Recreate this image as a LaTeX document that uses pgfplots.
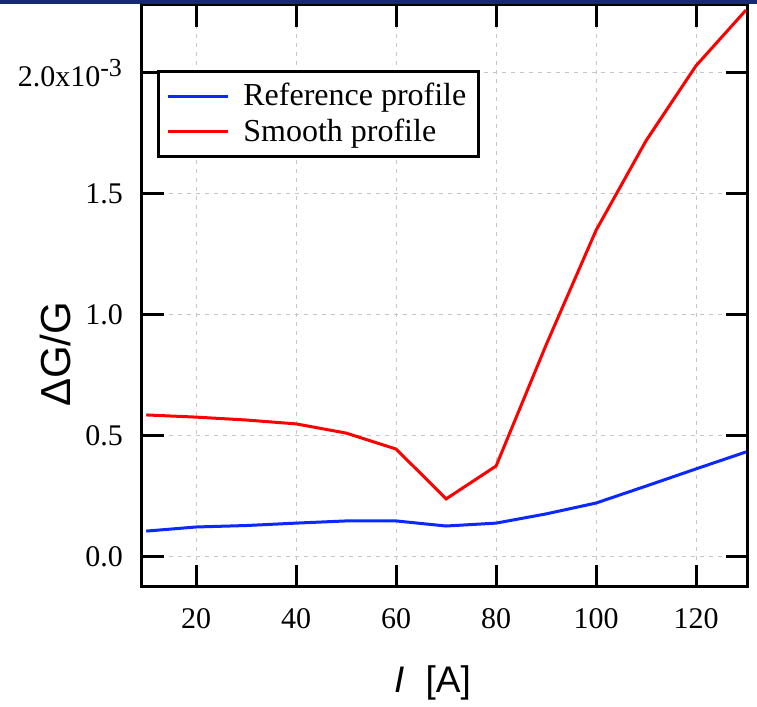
\documentclass[border=0pt]{standalone}
\usepackage{fontspec}
\setmainfont{Liberation Serif}
\newfontfamily\labelfont{Liberation Sans}
\usepackage{pgfplots}
\pgfplotsset{compat=1.18}
\definecolor{slidebar}{RGB}{22,40,118}
\definecolor{refblue}{RGB}{10,40,255}
\definecolor{smred}{RGB}{255,0,0}

\begin{document}
\begin{tikzpicture}
  \begin{axis}[
    scale only axis,
    width=303pt, height=291pt,
    xmin=9.15, xmax=130.4,
    ymin=-0.124, ymax=2.281,
    xtick={20,40,...,120},
    ytick={0,0.5,1.0,1.5,2.0},
    yticklabels={0.0,0.5,1.0,1.5,2.0x10\textsuperscript{\fontsize{13}{14}\selectfont -3}},
    /pgf/number format/assume math mode=true,
    tick label style={font=\fontsize{15}{18}\selectfont},
    xticklabel style={yshift=-7pt},
    yticklabel style={xshift=-6pt},
    tick align=inside,
    major tick length=11pt,
    every tick/.style={black, line width=1.5pt},
    axis line style={line width=1.5pt},
    grid=major,
    major grid style={gray!45, line width=0.5pt, dash pattern=on 2pt off 2.5pt},
    xlabel={\labelfont\fontsize{18.5}{20}\selectfont\itshape I\upshape\ \ [A]},
    ylabel={\labelfont\fontsize{21}{24}\selectfont ΔG/G},
    xlabel style={at={(axis description cs:0.48,-0.165)}, anchor=center},
    ylabel style={at={(axis description cs:-0.142,0.40)}, anchor=center},
    legend style={at={(0.025,0.888)}, anchor=north west, draw=black,
      line width=1.2pt, font=\fontsize{16}{19}\selectfont,
      inner xsep=4pt, inner ysep=4pt, row sep=1pt},
    legend cell align=left,
    legend image code/.code={\draw[#1] (0pt,0pt) -- (30pt,0pt); \path (35pt,0pt);},
  ]
    \addplot[refblue, line width=1.5pt, mark=none] coordinates {
      (10,0.107) (20,0.124) (30,0.130) (40,0.140) (50,0.149) (60,0.149)
      (70,0.128) (80,0.140) (90,0.178) (100,0.223) (110,0.293) (120,0.364) (130,0.434)};
    \addlegendentry{Reference profile}
    \addplot[smred, line width=1.5pt, mark=none] coordinates {
      (10,0.587) (20,0.578) (30,0.566) (40,0.550) (50,0.512) (60,0.446)
      (70,0.240) (80,0.376) (90,0.876) (100,1.350) (110,1.720) (120,2.030) (130,2.260)};
    \addlegendentry{Smooth profile}
  \end{axis}
  \path[use as bounding box] (-71pt,-58pt) rectangle (307.5pt,293.5pt);
  \fill[slidebar] (-71pt,291.3pt) rectangle (307.5pt,293.5pt);
\end{tikzpicture}
\end{document}
